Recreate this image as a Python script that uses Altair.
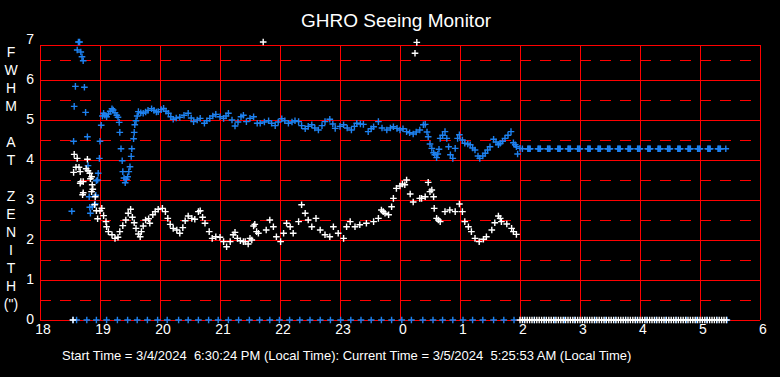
import altair as alt
import pandas as pd

# ---------------- data (hours; values past midnight are written as 24+h) ----------------
blue_t = [18.53, 18.56, 18.57, 18.59, 18.62, 18.64, 18.66, 18.68, 18.70, 18.72, 18.74, 18.76,
          18.79, 18.80, 18.82, 18.83, 18.84, 18.87, 18.92, 18.93, 18.94, 18.96, 18.97, 18.99,
          19.00, 19.02, 19.04, 19.06, 19.08, 19.11, 19.14, 19.17, 19.20, 19.22, 19.25, 19.28,
          19.30, 19.32, 19.33, 19.35, 19.37, 19.38, 19.40, 19.42, 19.44, 19.46, 19.48, 19.50,
          19.52, 19.53, 19.56, 19.57, 19.58, 19.60, 19.62, 19.64, 19.68, 19.72, 19.76, 19.80,
          19.86, 19.90, 19.94, 19.97, 20.02, 20.06, 20.10, 20.14, 20.18, 20.22, 20.27, 20.33,
          20.40, 20.47, 20.52, 20.56, 20.62, 20.67, 20.74, 20.78, 20.83, 20.88, 20.93, 21.00,
          21.06, 21.10, 21.14, 21.20, 21.25, 21.30, 21.35, 21.39, 21.44, 21.50, 21.56, 21.62,
          21.67, 21.74, 21.81, 21.86, 21.92, 21.97, 22.03, 22.08, 22.14, 22.20, 22.25, 22.31,
          22.36, 22.42, 22.47, 22.53, 22.58, 22.64, 22.70, 22.75, 22.83, 22.88, 22.92, 23.00,
          23.06, 23.12, 23.19, 23.24, 23.28, 23.34, 23.39, 23.47, 23.52, 23.56, 23.64, 23.70,
          23.78, 23.84, 23.89, 23.95, 24.00, 24.05, 24.11, 24.16, 24.22, 24.27, 24.33, 24.39,
          24.42, 24.45, 24.47, 24.50, 24.53, 24.56, 24.58, 24.61, 24.63, 24.65, 24.67, 24.71,
          24.75, 24.78, 24.81, 24.84, 24.88, 24.92, 24.96, 24.99, 25.04, 25.08, 25.13, 25.17,
          25.21, 25.25, 25.30, 25.33, 25.38, 25.42, 25.46, 25.50, 25.56, 25.60, 25.64, 25.67,
          25.71, 25.75, 25.80, 25.85, 25.89, 25.92, 25.94, 25.96, 26.00, 26.04]
blue_v = [2.72, 4.47, 5.34, 5.84, 6.75, 6.95, 6.95, 6.70, 6.58, 6.48, 5.82, 5.19,
          4.58, 3.86, 3.08, 2.82, 2.67, 2.83, 2.90, 3.12, 3.48, 3.50, 3.67, 4.04,
          4.47, 4.87, 5.10, 5.17, 5.12, 5.08, 5.15, 5.22, 5.28, 5.25, 5.18, 5.12,
          5.07, 4.94, 4.69, 4.28, 3.98, 3.71, 3.55, 3.43, 3.52, 3.58, 3.71, 3.83,
          4.09, 4.28, 4.53, 4.69, 4.88, 4.98, 5.10, 5.21, 5.18, 5.17, 5.20, 5.24,
          5.28, 5.24, 5.20, 5.21, 5.26, 5.29, 5.22, 5.17, 5.08, 5.02, 5.05, 5.07,
          5.12, 5.17, 5.05, 4.96, 5.00, 5.04, 4.92, 4.98, 5.04, 5.10, 5.14, 5.08,
          5.04, 5.10, 5.17, 5.00, 4.85, 4.95, 5.08, 5.12, 4.96, 5.04, 5.08, 4.92,
          4.92, 4.95, 4.98, 4.92, 4.86, 4.95, 5.03, 4.98, 4.92, 4.95, 4.98, 4.96,
          4.86, 4.78, 4.84, 4.88, 4.80, 4.75, 4.86, 4.96, 5.02, 4.90, 4.79, 4.84,
          4.88, 4.80, 4.75, 4.84, 4.92, 4.90, 4.89, 4.71, 4.78, 4.83, 4.96, 4.80,
          4.75, 4.80, 4.83, 4.79, 4.75, 4.78, 4.71, 4.68, 4.65, 4.70, 4.75, 4.88,
          4.89, 4.70, 4.58, 4.40, 4.29, 4.18, 4.13, 4.06, 4.15, 4.27, 4.54, 4.62,
          4.71, 4.54, 4.33, 4.13, 4.04, 4.29, 4.54, 4.63, 4.50, 4.42, 4.40, 4.38,
          4.30, 4.25, 4.10, 4.04, 4.10, 4.17, 4.25, 4.33, 4.52, 4.45, 4.38, 4.42,
          4.47, 4.54, 4.62, 4.71, 4.43, 4.38, 4.33, 4.15, 4.29, 4.28]

# flat (held) blue reading after 2 AM
blue_flat_t = [26.13, 26.14, 26.16, 26.17, 26.30, 26.31, 26.33, 26.34, 26.46, 26.47, 26.49, 26.50,
               26.63, 26.64, 26.66, 26.67, 26.80, 26.81, 26.83, 26.84, 26.96, 26.97, 26.99, 27.00,
               27.13, 27.14, 27.16, 27.17, 27.30, 27.31, 27.33, 27.34, 27.46, 27.47, 27.49, 27.50,
               27.63, 27.64, 27.66, 27.67, 27.80, 27.81, 27.83, 27.84, 27.96, 27.97, 27.99, 28.00,
               28.13, 28.14, 28.16, 28.17, 28.30, 28.31, 28.33, 28.34, 28.46, 28.47, 28.49, 28.50,
               28.63, 28.64, 28.66, 28.67, 28.80, 28.81, 28.83, 28.84, 28.96, 28.97, 28.99, 29.00,
               29.13, 29.14, 29.16, 29.17, 29.30, 29.31, 29.33, 29.34, 29.43]
blue_flat_value = 4.28

white_t = [18.56, 18.57, 18.60, 18.62, 18.65, 18.67, 18.67, 18.68, 18.71, 18.72, 18.72, 18.77,
           18.79, 18.80, 18.83, 18.84, 18.86, 18.86, 18.87, 18.88, 18.91, 18.92, 18.94, 18.96,
           19.00, 19.03, 19.06, 19.10, 19.11, 19.14, 19.20, 19.25, 19.30, 19.33, 19.38, 19.43,
           19.47, 19.51, 19.54, 19.57, 19.60, 19.64, 19.67, 19.69, 19.72, 19.76, 19.81, 19.83,
           19.88, 19.92, 19.97, 20.04, 20.09, 20.13, 20.17, 20.22, 20.28, 20.33, 20.38, 20.42,
           20.47, 20.53, 20.58, 20.64, 20.67, 20.71, 20.75, 20.82, 20.87, 20.93, 21.00, 21.06,
           21.11, 21.17, 21.22, 21.25, 21.29, 21.34, 21.39, 21.42, 21.47, 21.50, 21.53, 21.56,
           21.58, 21.61, 21.64, 21.72, 21.77, 21.83, 21.89, 21.94, 22.01, 22.06, 22.11, 22.17,
           22.22, 22.31, 22.36, 22.42, 22.47, 22.53, 22.60, 22.67, 22.75, 22.83, 22.89, 22.97,
           23.06, 23.11, 23.17, 23.25, 23.33, 23.44, 23.56, 23.64, 23.69, 23.72, 23.75, 23.81,
           23.86, 23.89, 23.94, 24.00, 24.04, 24.08, 24.11, 24.17, 24.22, 24.25, 24.28, 24.33,
           24.36, 24.42, 24.47, 24.50, 24.53, 24.56, 24.57, 24.61, 24.64, 24.67, 24.75, 24.83,
           24.92, 24.99, 25.04, 25.08, 25.14, 25.19, 25.25, 25.32, 25.39, 25.44, 25.53, 25.58,
           25.64, 25.67, 25.69, 25.78, 25.86, 25.89, 25.94]
white_v = [3.69, 4.14, 3.82, 4.04, 3.82, 3.71, 3.42, 3.46, 3.13, 3.46, 3.18, 3.78,
           4.02, 3.73, 3.67, 3.53, 3.58, 3.21, 3.38, 3.27, 2.88, 3.08, 2.73, 2.53,
           2.73, 2.79, 2.61, 2.46, 2.33, 2.21, 2.13, 2.04, 2.07, 2.21, 2.36, 2.50,
           2.67, 2.77, 2.57, 2.43, 2.29, 2.15, 2.08, 2.21, 2.35, 2.50, 2.53, 2.42,
           2.63, 2.71, 2.77, 2.79, 2.71, 2.54, 2.39, 2.29, 2.25, 2.17, 2.31, 2.48,
           2.60, 2.54, 2.52, 2.71, 2.73, 2.57, 2.42, 2.21, 2.04, 2.08, 2.07, 1.96,
           1.83, 1.96, 2.13, 2.19, 2.04, 1.98, 1.96, 1.96, 1.90, 2.04, 2.00, 2.35,
           2.39, 2.21, 2.17, 6.95, 2.25, 2.50, 2.33, 2.08, 1.96, 2.17, 2.42, 2.33,
           2.17, 2.46, 2.88, 2.67, 2.50, 2.33, 2.54, 2.25, 2.13, 2.08, 2.33, 2.17,
           2.04, 2.33, 2.46, 2.33, 2.38, 2.42, 2.46, 2.54, 2.75, 2.71, 2.67, 2.63,
           2.83, 3.04, 3.29, 3.35, 3.40, 3.38, 3.50, 3.15, 2.95, 6.67, 6.94, 3.04,
           3.04, 3.08, 3.44, 3.21, 3.25, 3.08, 2.79, 2.54, 2.50, 2.46, 2.71, 2.75,
           2.71, 2.90, 2.71, 2.46, 2.33, 2.21, 2.04, 1.96, 2.02, 2.08, 2.25, 2.43,
           2.60, 2.54, 2.46, 2.40, 2.29, 2.21, 2.14]

# zero-row markers
blue_zero_t = [18.55, 18.61, 18.78, 18.94, 19.11, 19.29, 19.46, 19.62, 19.79, 19.96, 20.12,
               20.31, 20.47, 20.64, 20.81, 20.97, 21.14, 21.31, 21.49, 21.66, 21.83, 21.99,
               22.16, 22.33, 22.50, 22.67, 22.84, 23.01, 23.18, 23.35, 23.52, 23.69, 23.86,
               24.03, 24.19, 24.38, 24.55, 24.71, 24.88, 25.05, 25.21, 25.38, 25.56, 25.73,
               25.90, 26.07, 26.24, 26.41, 26.58, 26.74, 26.91, 27.08, 27.25, 27.42, 27.59,
               27.76, 27.93, 28.10, 28.27, 28.43, 28.60, 28.77, 28.94, 29.11, 29.28, 29.45]
white_zero_t = [18.55, 26.00, 26.04, 26.08, 26.12, 26.16, 26.20, 26.24, 26.28, 26.32, 26.36,
                26.40, 26.44, 26.48, 26.52, 26.56, 26.60, 26.64, 26.68, 26.72, 26.76, 26.80,
                26.84, 26.88, 26.92, 26.96, 27.00, 27.04, 27.08, 27.12, 27.16, 27.20, 27.24,
                27.28, 27.32, 27.36, 27.40, 27.44, 27.48, 27.52, 27.56, 27.60, 27.64, 27.68,
                27.72, 27.76, 27.80, 27.84, 27.88, 27.92, 27.96, 28.00, 28.04, 28.08, 28.12,
                28.16, 28.20, 28.24, 28.28, 28.32, 28.36, 28.40, 28.44, 28.48, 28.52, 28.56,
                28.60, 28.64, 28.68, 28.72, 28.76, 28.80, 28.84, 28.88, 28.92, 28.96, 29.00,
                29.04, 29.08, 29.12, 29.16, 29.20, 29.24, 29.28, 29.32, 29.36, 29.40, 29.44]

# ticks and labels
x_ticks = [18, 19, 20, 21, 22, 23, 24, 25, 26, 27, 28, 29, 30]
x_labels = ["18", "19", "20", "21", "22", "23", "0", "1", "2", "3", "4", "5", "6"]
y_ticks = [0, 1, 2, 3, 4, 5, 6, 7]
y_labels = ["0", "1", "2", "3", "4", "5", "6", "7"]
solid_levels = [0, 1, 2, 3, 4, 5, 6]
dashed_levels = [0.5, 1.5, 2.5, 3.5, 4.5, 5.5, 6.5]
frame_top = 6.875
x_min, x_max = 18, 30

title_text = "GHRO Seeing Monitor"
footer_text = ("Start Time = 3/4/2024 \u00a06:30:24 PM (Local Time): "
               "Current Time = 3/5/2024 \u00a05:25:53 AM (Local Time)")
# vertical axis title, one character per row (rows 4 and 7 are blank)
y_title_chars = ["F", "W", "H", "M", "A", "T", "Z", "E", "N", "I", "T", "H", "(\")"]
y_title_rows = [0, 1, 2, 3, 5, 6, 8, 9, 10, 11, 12, 13, 14]

FONT = "Liberation Sans"
BLUE = "#1E82F0"
RED = "#FF0000"
PLUS = "M-1,0H1M0,-1V1"

xs = alt.Scale(domain=[x_min, x_max], nice=False, zero=False)
ys = alt.Scale(domain=[0, 7], nice=False, zero=False)

# ---------------- grid ----------------
hs_df = pd.DataFrame({"y": solid_levels + [frame_top]})
hs_df["x0"] = x_min
hs_df["x1"] = x_max
hd_df = pd.DataFrame({"y": dashed_levels})
hd_df["x0"] = x_min
hd_df["x1"] = x_max
v_df = pd.DataFrame({"x": x_ticks})
v_df["y0"] = 0
v_df["y1"] = frame_top

hsolid = alt.Chart(hs_df).mark_rule(color=RED, strokeWidth=1, yOffset=0.5).encode(
    y=alt.Y("y:Q", scale=ys, axis=None),
    x=alt.X("x0:Q", scale=xs, axis=None), x2="x1:Q",
)
hdash = alt.Chart(hd_df).mark_rule(color=RED, strokeWidth=1, yOffset=0.5, strokeDash=[11, 9]).encode(
    y=alt.Y("y:Q", scale=ys, axis=None),
    x=alt.X("x0:Q", scale=xs, axis=None), x2="x1:Q",
)
vlines = alt.Chart(v_df).mark_rule(color=RED, strokeWidth=1, xOffset=0.5).encode(
    x=alt.X("x:Q", scale=xs, axis=None),
    y=alt.Y("y0:Q", scale=ys, axis=None), y2="y1:Q",
)

# ---------------- tick labels (through the scales) ----------------
xlab = alt.Chart(pd.DataFrame({"t": x_ticks, "s": x_labels})).mark_text(
    font=FONT, fontSize=14, color="white", align="center", baseline="top", dx=3
).encode(x=alt.X("t:Q", scale=xs, axis=None), y=alt.value(283), text="s:N")

ylab = alt.Chart(pd.DataFrame({"v": y_ticks, "s": y_labels})).mark_text(
    font=FONT, fontSize=14, color="white", align="right", baseline="middle"
).encode(y=alt.Y("v:Q", scale=ys, axis=None), x=alt.value(-6), text="s:N")

ytitle = alt.Chart(pd.DataFrame({"c": y_title_chars, "r": y_title_rows})).transform_calculate(
    py="13 + 18 * datum.r"
).mark_text(
    font=FONT, fontSize=14, color="white", align="center", baseline="middle"
).encode(y=alt.Y("py:Q", scale=None, axis=None), x=alt.value(-29), text="c:N")

# ---------------- points ----------------
def pts(t, v, color):
    df = pd.DataFrame({"t": t, "v": v})
    return alt.Chart(df).mark_point(
        shape=PLUS, filled=False, size=44, strokeWidth=1.4, color=color, opacity=1
    ).encode(
        x=alt.X("t:Q", scale=xs, axis=None),
        y=alt.Y("v:Q", scale=ys, axis=None),
    )

blue_zero = pts(blue_zero_t, [0] * len(blue_zero_t), BLUE)
white_zero = pts(white_zero_t, [0] * len(white_zero_t), "white")
blue_main = pts(blue_t, blue_v, BLUE)
blue_flat = pts(blue_flat_t, [blue_flat_value] * len(blue_flat_t), BLUE)
white_main = pts(white_t, white_v, "white")

# ---------------- texts ----------------
title = alt.Chart(pd.DataFrame({"s": [title_text]})).mark_text(
    font=FONT, fontSize=19, color="white", align="center", baseline="alphabetic"
).encode(text="s:N", x=alt.value(356), y=alt.value(-13))

footer = alt.Chart(pd.DataFrame({"s": [footer_text]})).mark_text(
    font=FONT, fontSize=13, color="white", align="left", baseline="alphabetic"
).encode(text="s:N", x=alt.value(22), y=alt.value(320))

chart = alt.layer(
    hsolid, hdash, vlines, blue_zero, white_zero, blue_main, blue_flat, white_main,
    xlab, ylab, ytitle, title, footer
).properties(
    width=720, height=280,
    autosize=alt.AutoSizeParams(type="none"),
    padding={"left": 40, "top": 40, "right": 20, "bottom": 57},
    background="black",
).configure_view(stroke=None)

chart.save("out.html", embed_options={"renderer": "svg", "actions": False})
